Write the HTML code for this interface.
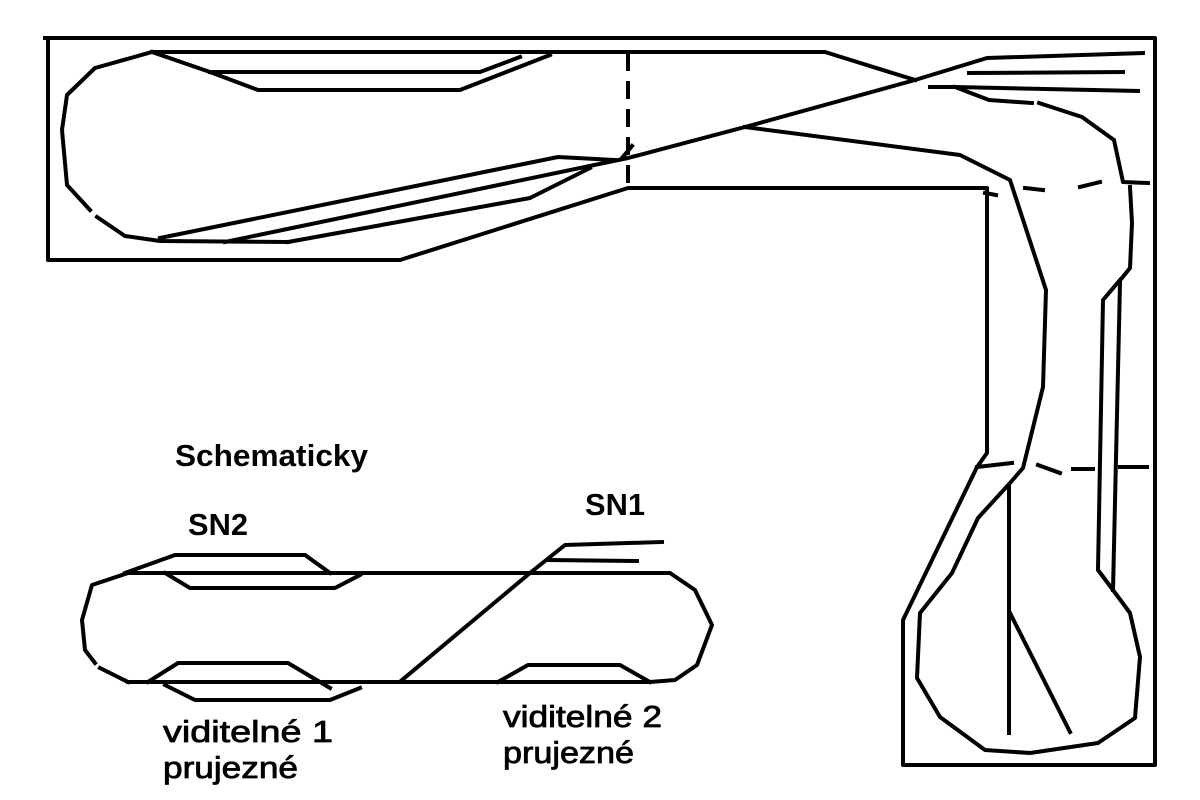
<!DOCTYPE html>
<html><head><meta charset="utf-8"><style>
html,body{margin:0;padding:0;background:#fff;}
svg{display:block;}
text{font-family:"Liberation Sans",Arial,sans-serif;fill:#000;}
</style></head><body>
<svg width="1200" height="800" viewBox="0 0 1200 800" xmlns="http://www.w3.org/2000/svg">
<g fill="none" stroke="#000" stroke-width="4" stroke-linejoin="round" stroke-linecap="square">
<polyline points="45,38 1155,38 1155,765 903,765 903,620 977,467 987,453 987,188 628,188 400,260 48,260 48,38"/>
<line x1="628" y1="55" x2="628" y2="188" stroke-dasharray="14,14"/>
<line x1="622" y1="158" x2="632" y2="146"/>
<polyline points="152,52 825,52 915,80"/>
<polyline points="152,52 95,68 67,95 62,130 67,185 90,210"/>
<polyline points="97,217 125,236 160,241 288,242"/>
<polyline points="152,52 210,72 258,90 460,90 550,55"/>
<polyline points="210,72 480,72 520,57"/>
<polyline points="160,238 558,157 615,160"/>
<polyline points="225,242 628,158 745,127 915,80 987,58 1143,53"/>
<polyline points="288,242 530,198 590,168"/>
<line x1="969" y1="73" x2="1123" y2="72"/>
<polyline points="930,87 955,87 1138,91"/>
<polyline points="955,87 989,100 1032,103"/>
<polyline points="1039,103 1082,117 1114,140 1123,182 1148,183"/>
<polyline points="745,127 960,155 1010,180 1046,290 1043,387 1023,468 1010,483 978,518 952,573 920,613 917,678 940,717 985,750 1030,753 1098,743 1135,718 1140,657 1130,613 1113,590 1098,570 1103,300 1120,280"/>
<line x1="1120" y1="283" x2="1113" y2="590"/>
<polyline points="1130,187 1132,223 1130,268 1122,278"/>
<line x1="1025" y1="188" x2="1043" y2="190"/>
<line x1="1080" y1="187" x2="1100" y2="182"/>
<line x1="985" y1="193" x2="996" y2="195"/>
<line x1="977" y1="467" x2="1012" y2="463"/>
<line x1="1038" y1="465" x2="1060" y2="473"/>
<line x1="1073" y1="469" x2="1093" y2="469"/>
<line x1="1120" y1="467" x2="1147" y2="467"/>
<line x1="1009" y1="487" x2="1009" y2="733"/>
<line x1="1010" y1="613" x2="1070" y2="732"/>
<polyline points="128,573 670,573 695,590 712,625 697,665 675,680 650,682 128,682"/>
<polyline points="128,573 92,585 82,620 85,650 95,663"/>
<polyline points="100,668 128,682"/>
<polyline points="125,573 175,555 305,555 330,573"/>
<polyline points="165,573 190,588 335,588 360,575"/>
<polyline points="148,682 178,663 288,663 330,688"/>
<polyline points="165,685 195,700 330,700 360,688"/>
<polyline points="402,680 530,573 565,545 662,542"/>
<line x1="548" y1="560" x2="637" y2="561"/>
<polyline points="498,682 528,665 620,665 650,682"/>
</g>
<text x="175" y="466" font-size="31" font-weight="bold" textLength="193" lengthAdjust="spacingAndGlyphs">Schematicky</text>
<text x="188" y="535" font-size="31" font-weight="bold" textLength="60" lengthAdjust="spacingAndGlyphs">SN2</text>
<text x="585" y="515" font-size="31" font-weight="bold" textLength="60" lengthAdjust="spacingAndGlyphs">SN1</text>
<g stroke="#000" stroke-width="0.8">
<text x="163" y="742" font-size="31" textLength="170" lengthAdjust="spacingAndGlyphs">viditelné 1</text>
<text x="163" y="778" font-size="31" textLength="135" lengthAdjust="spacingAndGlyphs">prujezné</text>
<text x="503" y="727" font-size="31" textLength="159" lengthAdjust="spacingAndGlyphs">viditelné 2</text>
<text x="503" y="763" font-size="31" textLength="131" lengthAdjust="spacingAndGlyphs">prujezné</text>
</g>
</svg>
</body></html>
